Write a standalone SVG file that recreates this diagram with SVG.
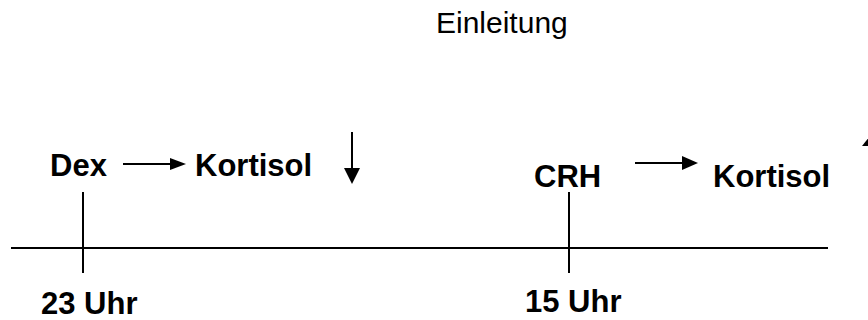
<svg xmlns="http://www.w3.org/2000/svg" width="868" height="320" viewBox="0 0 868 320">
<defs>
<style>
.t{font-family:"Liberation Sans",Arial,sans-serif;fill:#000}
.b{font-weight:bold;font-size:31px}
.ln{stroke:#000;stroke-width:2;fill:none}
.hd{fill:#000}
</style>
</defs>
<rect width="868" height="320" fill="#fff"/>
<g id="title"><text class="t" x="436" y="33" font-size="30">Einleitung</text></g>
<g id="timeline"><line class="ln" x1="11" y1="248" x2="828" y2="248"/></g>
<g id="tick23"><line class="ln" x1="83" y1="192" x2="83" y2="273"/><text class="t b" x="41" y="314">23 Uhr</text></g>
<g id="tick15"><line class="ln" x1="569" y1="192" x2="569" y2="273"/><text class="t b" x="525" y="312">15 Uhr</text></g>
<g id="dex"><text class="t b" x="50" y="176">Dex</text></g>
<g id="kortisol1"><text class="t b" x="195" y="176">Kortisol</text></g>
<g id="crh"><text class="t b" x="534" y="187">CRH</text></g>
<g id="kortisol2"><text class="t b" x="713" y="187">Kortisol</text></g>
<g id="connectors">
<line class="ln" x1="123" y1="164" x2="172" y2="164"/>
<polygon class="hd" points="170,158 186,164 170,170"/>
<line class="ln" x1="635" y1="163" x2="684" y2="163"/>
<polygon class="hd" points="682,156 698,163 682,170"/>
<line class="ln" x1="352" y1="132" x2="352" y2="170"/>
<polygon class="hd" points="344,168 360,168 352,184"/>
<polygon class="hd" points="870,136 862,146 878,146"/>
</g>
</svg>
